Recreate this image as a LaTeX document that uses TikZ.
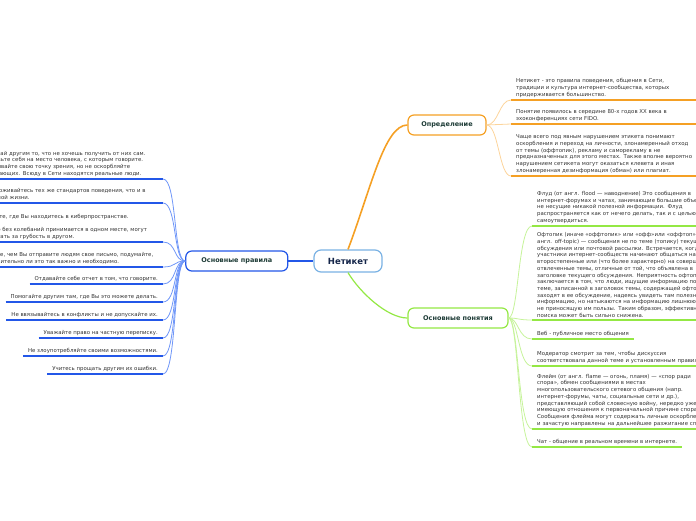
\documentclass[tikz,border=0pt]{standalone}
\usepackage{fontspec}
\setmainfont{DejaVu Sans}
\usetikzlibrary{positioning}
\definecolor{mmOrange}{HTML}{F5A024}
\definecolor{mmOrangeLt}{HTML}{FCD49B}
\definecolor{mmGreen}{HTML}{94E844}
\definecolor{mmGreenLt}{HTML}{C6F39A}
\definecolor{mmBlue}{HTML}{2357E8}
\definecolor{mmBlueLt}{HTML}{6F96F8}
\definecolor{mmSky}{HTML}{7AB2E4}
\definecolor{mmInk}{HTML}{1D3B36}
\definecolor{mmNavy}{HTML}{15264A}
\definecolor{mmText}{HTML}{333333}

\begin{document}
\begin{tikzpicture}[x=1pt, y=-1pt,
    root/.style={rounded corners=7pt, draw=mmSky, line width=1.2pt, fill=white,
      minimum width=68pt, minimum height=22pt,
      font=\fontsize{8.5}{10}\selectfont\bfseries, text=mmNavy},
    topic/.style={rounded corners=6pt, line width=1.2pt, fill=white,
      minimum height=20pt, inner xsep=0pt,
      font=\fontsize{6.5}{8}\selectfont\bfseries, text=mmInk},
    leaf/.style={font=\fontsize{5.4}{6.7}\selectfont, text=mmText, align=left,
      inner xsep=5pt, inner ysep=2.5pt},
    uline/.style={line width=1.6pt},
    link/.style={line width=0.8pt}]
  \useasboundingbox (0,0) rectangle (696,520);
  \clip (0,0) rectangle (696,520);

  \node[root] (net) at (348,261) {Нетикет};
  \node[topic, draw=mmBlue, minimum width=102pt, left=25pt of net] (prav) {Основные правила};
  \node[topic, draw=mmOrange, minimum width=78pt] (oprd) at (447,125) {Определение};
  \node[topic, draw=mmGreen, minimum width=100pt] (ponj) at (458,318) {Основные понятия};

  \draw[mmOrange, line width=1.6pt] (net.north) .. controls +(23,-61) and +(-23,0) .. (oprd.west);
  \draw[mmGreen, line width=1.2pt] (net.south) .. controls +(12,20) and +(-20,0) .. (ponj.west);
  \draw[mmBlue, line width=1.2pt] (prav.east) -- (net.west);

  \node[leaf, text width=190pt, anchor=south west] (o1) at (511,100)
    {Нетикет - это правила поведения, общения в Сети,\\традиции и культура интернет-сообщества, которых\\придерживается большинство.};
  \node[leaf, text width=190pt, anchor=south west] (o2) at (511,124)
    {Понятие появилось в середине 80-х годов XX века в\\эхоконференциях сети FIDO.};
  \node[leaf, text width=190pt, anchor=south west] (o3) at (511,176)
    {Чаще всего под явным нарушением этикета понимают\\оскорбления и переход на личности, злонамеренный отход\\от темы (оффтопик), рекламу и саморекламу в не\\предназначенных для этого местах. Также вполне вероятно\\нарушением сетикета могут оказаться клевета и иная\\злонамеренная дезинформация (обман) или плагиат.};
  \draw[uline, mmOrange] (o1.south west) -- (o1.south east);
  \draw[uline, mmOrange] (o2.south west) -- (o2.south east);
  \draw[uline, mmOrange] (o3.south west) -- (o3.south east);
  \draw[link, mmOrangeLt] (oprd.east) .. controls +(12,0) and +(-12,0) .. (o1.south west);
  \draw[link, mmOrangeLt] (oprd.east) .. controls +(12,0) and +(-12,0) .. (o2.south west);
  \draw[link, mmOrangeLt] (oprd.east) .. controls +(12,0) and +(-12,0) .. (o3.south west);

  \node[leaf, text width=200pt, anchor=south west] (g1) at (532,226)
    {Флуд (от англ. flood — наводнение) Это сообщения в\\интернет-форумах и чатах, занимающие большие объемы,\\не несущие никакой полезной информации. Флуд\\распространяется как от нечего делать, так и с целью\\самоутвердиться.};
  \node[leaf, text width=200pt, anchor=south west] (g2) at (532,320)
    {Офтопик (иначе «оффтопик» или «офф»или «оффтоп»; от\\англ. off-topic) — сообщения не по теме (топику) текущего\\обсуждения или почтовой рассылки. Встречается, когда\\участники интернет-сообществ начинают общаться на\\второстепенные или (что более характерно) на совершенно\\отвлеченные темы, отличные от той, что объявлена в\\заголовке текущего обсуждения. Неприятность офтопика\\заключается в том, что люди, ищущие информацию по\\теме, записанной в заголовок темы, содержащей офтопик,\\заходят в ее обсуждение, надеясь увидеть там полезную\\информацию, но натыкаются на информацию лишнюю,\\не приносящую им пользы. Таким образом, эффективность\\поиска может быть сильно снижена.};
  \node[leaf, anchor=south west] (g3) at (532,339) {Веб - публичное место общения};
  \node[leaf, text width=200pt, anchor=south west] (g4) at (532,366)
    {Модератор смотрит за тем, чтобы дискуссия\\соответствовала данной теме и установленным правилам.};
  \node[leaf, text width=200pt, anchor=south west] (g5) at (532,429)
    {Флейм (от англ. flame — огонь, пламя) — «спор ради\\спора», обмен сообщениями в местах\\многопользовательского сетевого общения (напр.\\интернет-форумы, чаты, социальные сети и др.),\\представляющий собой словесную войну, нередко уже не\\имеющую отношения к первоначальной причине спора.\\Сообщения флейма могут содержать личные оскорбления\\и зачастую направлены на дальнейшее разжигание спора.};
  \node[leaf, anchor=south west] (g6) at (532,447) {Чат - общение в реальном времени в интернете.};
  \draw[uline, mmGreen] (g1.south west) -- (g1.south east);
  \draw[uline, mmGreen] (g2.south west) -- (g2.south east);
  \draw[uline, mmGreen] (g3.south west) -- (g3.south east);
  \draw[uline, mmGreen] (g4.south west) -- (g4.south east);
  \draw[uline, mmGreen] (g5.south west) -- (g5.south east);
  \draw[uline, mmGreen] (g6.south west) -- (g6.south east);
  \draw[link, mmGreenLt] (ponj.east) .. controls +(10,0) and +(-14,0) .. (g1.south west);
  \draw[link, mmGreenLt] (ponj.east) .. controls +(10,0) and +(-14,0) .. (g2.south west);
  \draw[link, mmGreenLt] (ponj.east) .. controls +(10,0) and +(-14,0) .. (g3.south west);
  \draw[link, mmGreenLt] (ponj.east) .. controls +(10,0) and +(-14,0) .. (g4.south west);
  \draw[link, mmGreenLt] (ponj.east) .. controls +(10,0) and +(-14,0) .. (g5.south west);
  \draw[link, mmGreenLt] (ponj.east) .. controls +(10,0) and +(-14,0) .. (g6.south west);

  \node[leaf, text width=177pt, anchor=south east] (b1) at (163,179)
    {Не делай другим то, что не хочешь получить от них сам.\\Поставьте себя на место человека, с которым говорите.\\Отстаивайте свою точку зрения, но не оскорбляйте\\окружающих. Всюду в Сети находятся реальные люди.};
  \node[leaf, text width=177pt, anchor=south east] (b2) at (163,203)
    {Придерживайтесь тех же стандартов поведения, что и в\\реальной жизни.};
  \node[leaf, text width=177pt, anchor=south east] (b3) at (163,242)
    {Помните, где Вы находитесь в киберпространстве.\\[6.7pt]То, что без колебаний принимается в одном месте, могут\\посчитать за грубость в другом.};
  \node[leaf, text width=177pt, anchor=south east] (b4) at (163,267)
    {Прежде, чем Вы отправите людям свое письмо, подумайте,\\действительно ли это так важно и необходимо.};
  \node[leaf, anchor=south east] (b5) at (163,284) {Отдавайте себе отчет в том, что говорите.};
  \node[leaf, anchor=south east] (b6) at (163,302) {Помогайте другим там, где Вы это можете делать.};
  \node[leaf, anchor=south east] (b7) at (163,320) {Не ввязывайтесь в конфликты и не допускайте их.};
  \node[leaf, anchor=south east] (b8) at (163,338) {Уважайте право на частную переписку.};
  \node[leaf, anchor=south east] (b9) at (163,356) {Не злоупотребляйте своими возможностями.};
  \node[leaf, anchor=south east] (b10) at (163,374) {Учитесь прощать другим их ошибки.};
  \draw[uline, mmBlue] (b1.south west) -- (b1.south east);
  \draw[uline, mmBlue] (b2.south west) -- (b2.south east);
  \draw[uline, mmBlue] (b3.south west) -- (b3.south east);
  \draw[uline, mmBlue] (b4.south west) -- (b4.south east);
  \draw[uline, mmBlue] (b5.south west) -- (b5.south east);
  \draw[uline, mmBlue] (b6.south west) -- (b6.south east);
  \draw[uline, mmBlue] (b7.south west) -- (b7.south east);
  \draw[uline, mmBlue] (b8.south west) -- (b8.south east);
  \draw[uline, mmBlue] (b9.south west) -- (b9.south east);
  \draw[uline, mmBlue] (b10.south west) -- (b10.south east);
  \draw[link, mmBlueLt] (prav.west) .. controls +(-12,0) and +(14,0) .. (b1.south east);
  \draw[link, mmBlueLt] (prav.west) .. controls +(-12,0) and +(14,0) .. (b2.south east);
  \draw[link, mmBlueLt] (prav.west) .. controls +(-12,0) and +(14,0) .. (b3.south east);
  \draw[link, mmBlueLt] (prav.west) .. controls +(-12,0) and +(14,0) .. (b4.south east);
  \draw[link, mmBlueLt] (prav.west) .. controls +(-12,0) and +(14,0) .. (b5.south east);
  \draw[link, mmBlueLt] (prav.west) .. controls +(-12,0) and +(14,0) .. (b6.south east);
  \draw[link, mmBlueLt] (prav.west) .. controls +(-12,0) and +(14,0) .. (b7.south east);
  \draw[link, mmBlueLt] (prav.west) .. controls +(-12,0) and +(14,0) .. (b8.south east);
  \draw[link, mmBlueLt] (prav.west) .. controls +(-12,0) and +(14,0) .. (b9.south east);
  \draw[link, mmBlueLt] (prav.west) .. controls +(-12,0) and +(14,0) .. (b10.south east);
\end{tikzpicture}
\end{document}
